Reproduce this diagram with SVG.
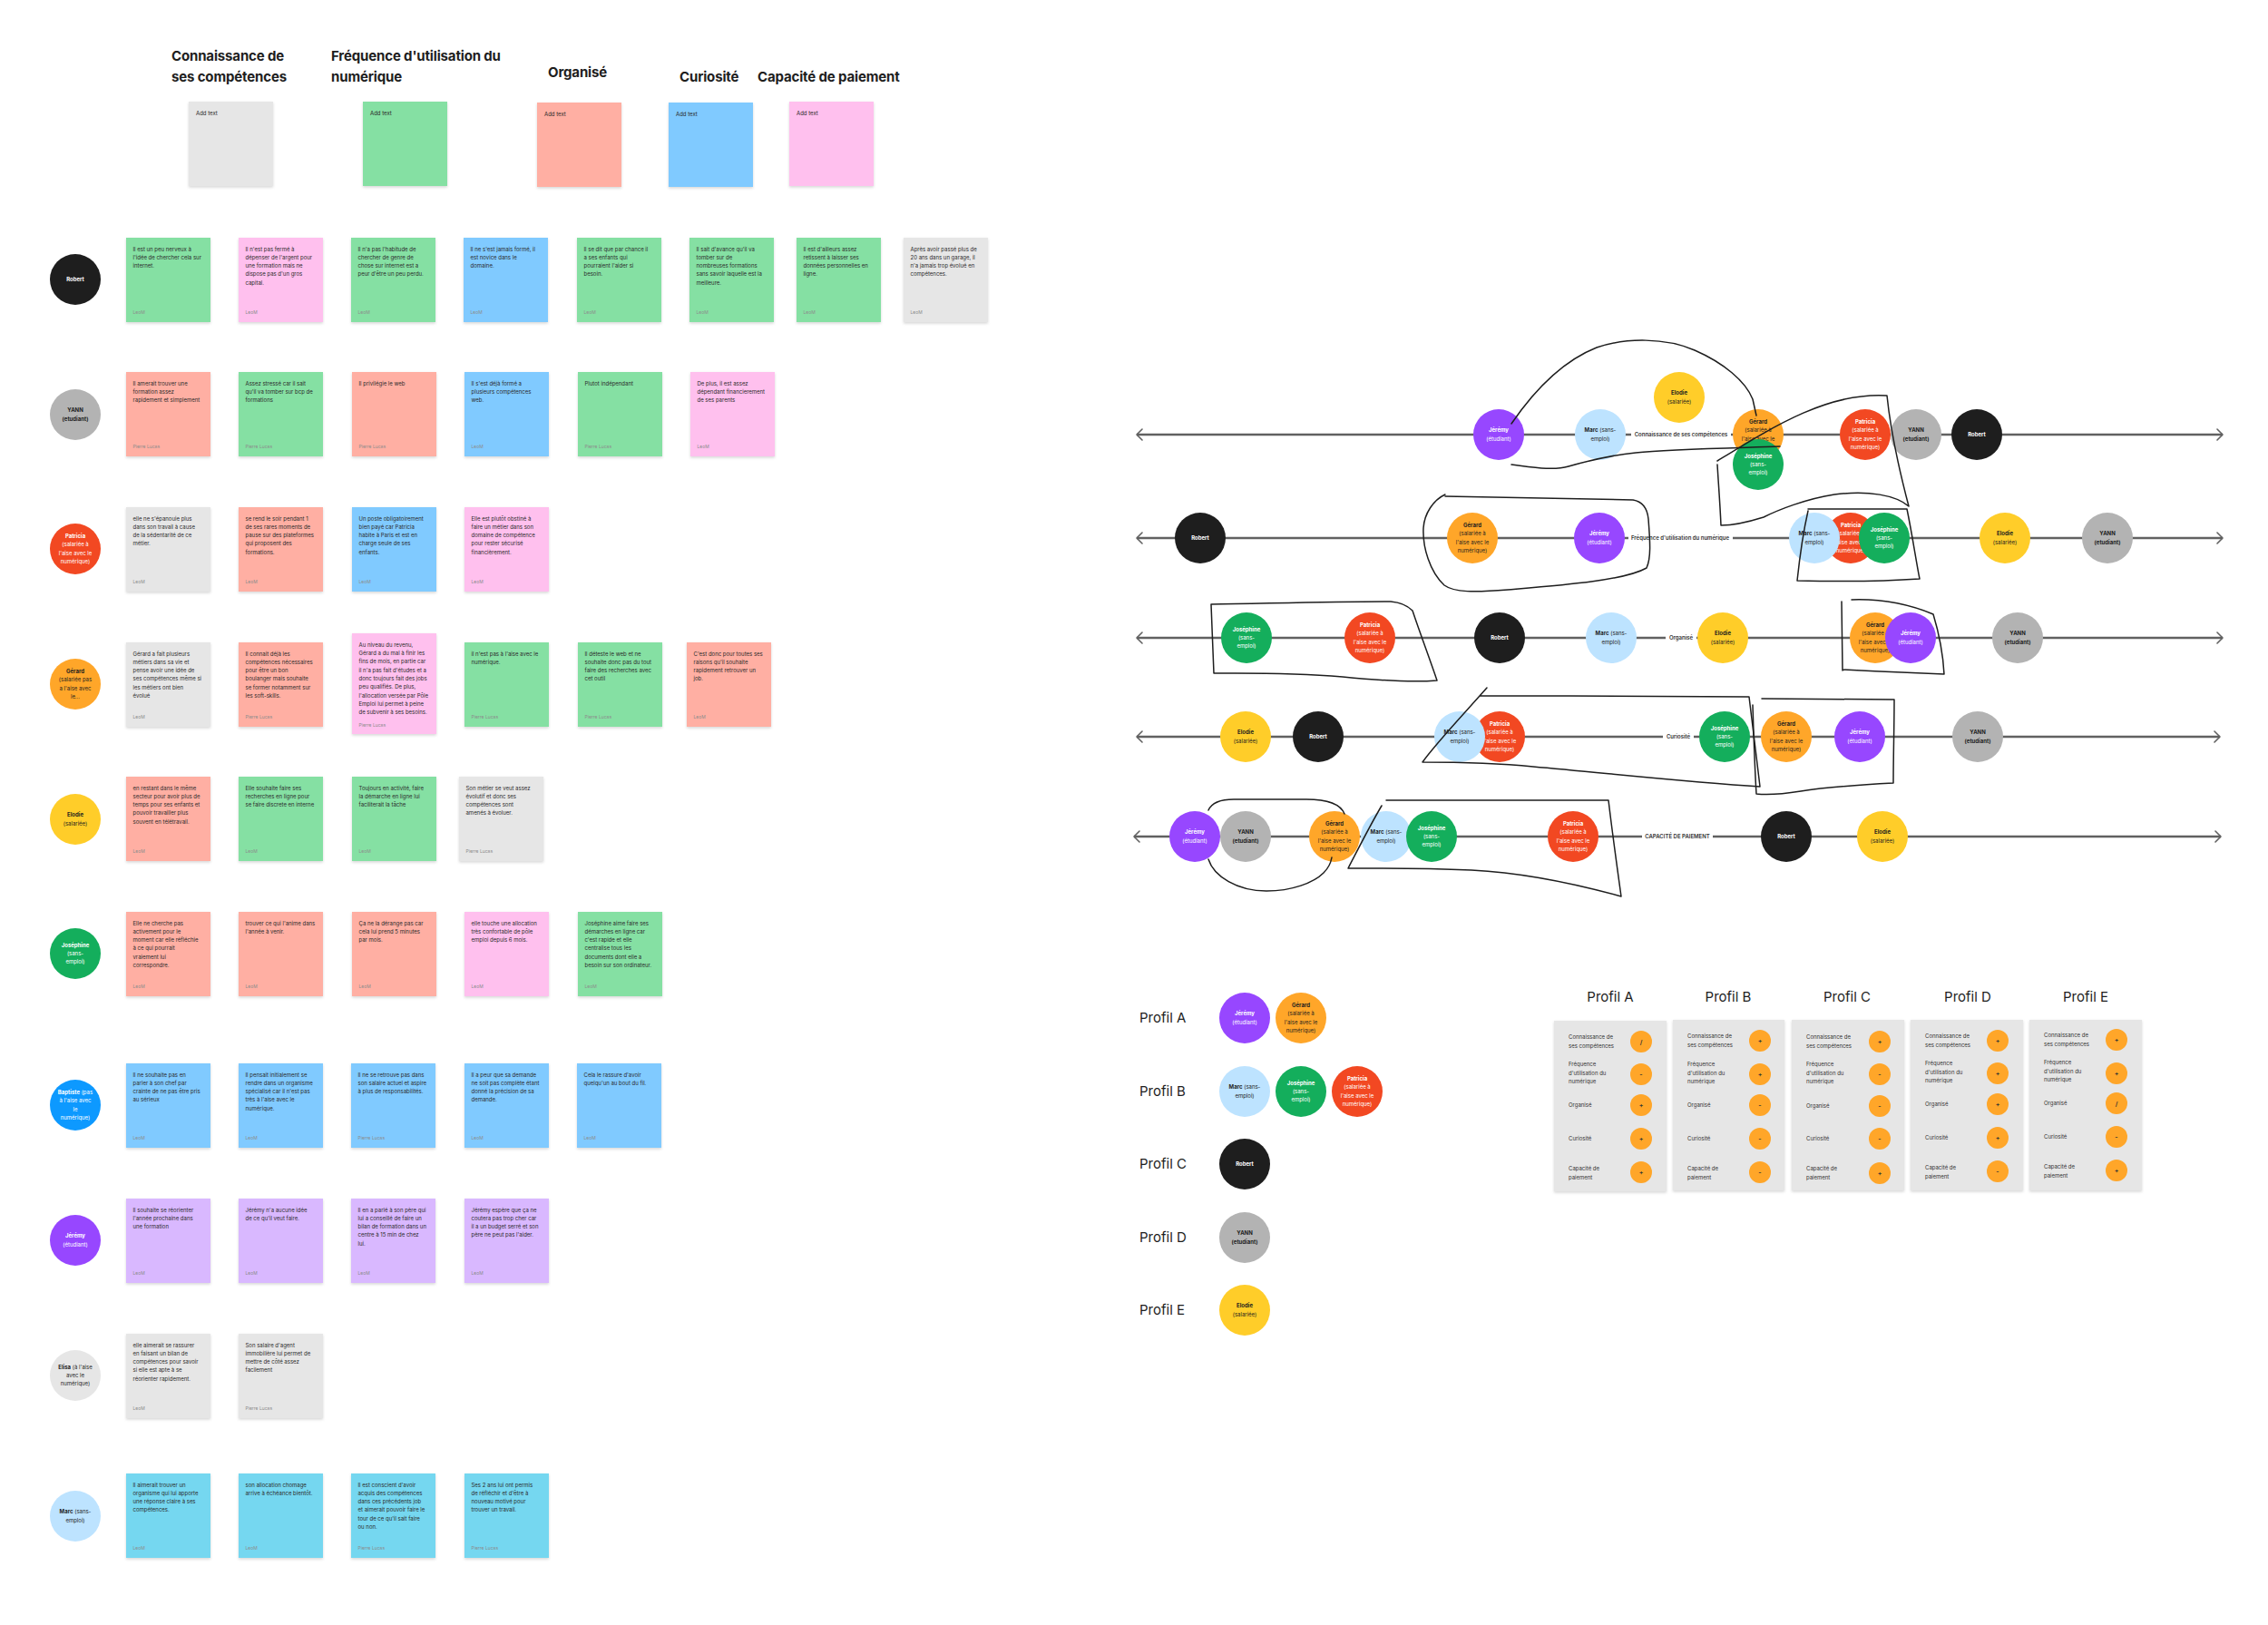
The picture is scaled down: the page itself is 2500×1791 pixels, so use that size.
<svg xmlns="http://www.w3.org/2000/svg" width="2500" height="1791" viewBox="0 0 2500 1791">
<defs>
<filter id="sh" x="-10%" y="-10%" width="120%" height="125%"><feDropShadow dx="0" dy="1.5" stdDeviation="1.4" flood-color="#000" flood-opacity="0.16"/></filter>
<style>
text{font-family:Inter,"Liberation Sans",sans-serif;}
.hd{font-size:15px;font-weight:700;fill:#1e1e1e;letter-spacing:-0.15px;}
.sk rect{filter:url(#sh);}
.sk text{font-size:6px;fill:#2b2b2b;}
.sk text.au{font-size:5px;fill:#8c8c8c;}
.addt{font-size:5px;fill:#8c8c8c;}
.gray{fill:#e6e6e6}.green{fill:#85e0a3}.salmon{fill:#ffafa3}.blue{fill:#80caff}.pink{fill:#ffc0ee}.purple{fill:#d9b8ff}.teal{fill:#75d7f0}
.nd text{font-size:6px;text-anchor:middle;}
.w{fill:#ffffff}.d{fill:#1e1e1e}
.b{font-weight:700}
.c-rob{fill:#1e1e1e}.c-yan{fill:#b3b3b3}.c-pat{fill:#f24822}.c-ger{fill:#ffa629}.c-elo{fill:#ffcd29}.c-jos{fill:#14ae5c}.c-bap{fill:#0d99ff}.c-jer{fill:#9747ff}.c-eli{fill:#e6e6e6}.c-mar{fill:#bde3ff}
.axis{stroke:#616161;stroke-width:2.5;fill:none}
.arr{stroke:#616161;stroke-width:1.6;fill:none;stroke-linecap:round;stroke-linejoin:round}
.alab{font-size:6px;font-weight:600;fill:#333;text-anchor:middle}
.hand{stroke:#1e1e1e;stroke-width:1.5;fill:none;stroke-linecap:round;stroke-linejoin:round}
.pl{font-size:15px;fill:#1e1e1e}
.pt{font-size:15px;fill:#1e1e1e;text-anchor:middle}
.tb{fill:#e6e6e6;filter:url(#sh)}
.tr{font-size:6px;fill:#333}
.dot{fill:#ffa629}
.sym{font-size:7px;fill:#333;text-anchor:middle;font-weight:600}
</style>
</defs>
<rect width="2500" height="1791" fill="#ffffff"/>

<!-- Headers -->
<g id="headers">
<text class="hd" x="189" y="67">Connaissance de</text>
<text class="hd" x="189" y="90">ses compétences</text>
<text class="hd" x="365" y="67">Fréquence d'utilisation du</text>
<text class="hd" x="365" y="90">numérique</text>
<text class="hd" x="604" y="85">Organisé</text>
<text class="hd" x="749" y="90">Curiosité</text>
<text class="hd" x="835" y="90">Capacité de paiement</text>
</g>
<g id="legend-stickies" class="sk">
<rect class="gray" x="208" y="112" width="93" height="93"/><text class="addt" x="216" y="127">Add text</text>
<rect class="green" x="400" y="112" width="93" height="93"/><text class="addt" x="408" y="127">Add text</text>
<rect class="salmon" x="592" y="113" width="93" height="93"/><text class="addt" x="600" y="128">Add text</text>
<rect class="blue" x="737" y="113" width="93" height="93"/><text class="addt" x="745" y="128">Add text</text>
<rect class="pink" x="870" y="112" width="93" height="93"/><text class="addt" x="878" y="127">Add text</text>
</g>

<!-- Persona circles -->
<g id="persona-robert" class="nd"><circle class="c-rob" cx="83" cy="308" r="28"/><text class="w b" x="83" y="310">Robert</text></g>
<g id="persona-yann" class="nd"><circle class="c-yan" cx="83" cy="457" r="28"/><text class="d b" x="83" y="454.4">YANN<tspan x="83" dy="9.3">(etudiant)</tspan></text></g>
<g id="persona-patricia" class="nd"><circle class="c-pat" cx="83" cy="605" r="28"/><text class="w" x="83" y="593"><tspan class="b">Patricia</tspan><tspan x="83" dy="9.3">(salariée à</tspan><tspan x="83" dy="9.3">l'aise avec le</tspan><tspan x="83" dy="9.3">numérique)</tspan></text></g>
<g id="persona-gerard" class="nd"><circle class="c-ger" cx="83" cy="754" r="28"/><text class="d" x="83" y="742"><tspan class="b">Gérard</tspan><tspan x="83" dy="9.3">(salariée pas</tspan><tspan x="83" dy="9.3">a l'aise avec</tspan><tspan x="83" dy="9.3">le...</tspan></text></g>
<g id="persona-elodie" class="nd"><circle class="c-elo" cx="83" cy="903" r="28"/><text class="d" x="83" y="900.4"><tspan class="b">Elodie</tspan><tspan x="83" dy="9.3">(salariée)</tspan></text></g>
<g id="persona-josephine" class="nd"><circle class="c-jos" cx="83" cy="1051" r="28"/><text class="w" x="83" y="1043.7"><tspan class="b">Joséphine</tspan><tspan x="83" dy="9.3">(sans-</tspan><tspan x="83" dy="9.3">emploi)</tspan></text></g>
<g id="persona-baptiste" class="nd"><circle class="c-bap" cx="83" cy="1218" r="28"/><text class="w" x="83" y="1206"><tspan class="b">Baptiste</tspan> (pas<tspan x="83" dy="9.3">à l'aise avec</tspan><tspan x="83" dy="9.3">le</tspan><tspan x="83" dy="9.3">numérique)</tspan></text></g>
<g id="persona-jeremy" class="nd"><circle class="c-jer" cx="83" cy="1367" r="28"/><text class="w" x="83" y="1364.4"><tspan class="b">Jérémy</tspan><tspan x="83" dy="9.3">(étudiant)</tspan></text></g>
<g id="persona-elisa" class="nd"><circle class="c-eli" cx="83" cy="1516" r="28"/><text class="d" x="83" y="1508.7"><tspan class="b">Elisa</tspan> (à l'aise<tspan x="83" dy="9.3">avec le</tspan><tspan x="83" dy="9.3">numérique)</tspan></text></g>
<g id="persona-marc" class="nd"><circle class="c-mar" cx="83" cy="1671" r="28"/><text class="d" x="83" y="1668.4"><tspan class="b">Marc</tspan> (sans-<tspan x="83" dy="9.3">emploi)</tspan></text></g>

<!-- Sticky notes: Robert -->
<g id="notes-robert" class="sk">
<rect class="green" x="139" y="262" width="93" height="93"/><text x="146.5" y="276.5">Il est un peu nerveux à<tspan x="146.5" dy="9.3">l'idée de chercher cela sur</tspan><tspan x="146.5" dy="9.3">internet.</tspan></text><text class="au" x="146.5" y="346">LeoM</text>
<rect class="pink" x="263" y="262" width="93" height="93"/><text x="270.5" y="276.5">Il n'est pas fermé à<tspan x="270.5" dy="9.3">dépenser de l'argent pour</tspan><tspan x="270.5" dy="9.3">une formation mais ne</tspan><tspan x="270.5" dy="9.3">dispose pas d'un gros</tspan><tspan x="270.5" dy="9.3">capital.</tspan></text><text class="au" x="270.5" y="346">LeoM</text>
<rect class="green" x="387" y="262" width="93" height="93"/><text x="394.5" y="276.5">Il n'a pas l'habitude de<tspan x="394.5" dy="9.3">chercher de genre de</tspan><tspan x="394.5" dy="9.3">chose sur internet est a</tspan><tspan x="394.5" dy="9.3">peur d'être un peu perdu.</tspan></text><text class="au" x="394.5" y="346">LeoM</text>
<rect class="blue" x="511" y="262" width="93" height="93"/><text x="518.5" y="276.5"> Il ne s'est jamais formé, il<tspan x="518.5" dy="9.3">est novice dans le</tspan><tspan x="518.5" dy="9.3">domaine.</tspan></text><text class="au" x="518.5" y="346">LeoM</text>
<rect class="green" x="636" y="262" width="93" height="93"/><text x="643.5" y="276.5"> Il se dit que par chance il<tspan x="643.5" dy="9.3">a ses enfants qui</tspan><tspan x="643.5" dy="9.3">pourraient l'aider si</tspan><tspan x="643.5" dy="9.3">besoin.</tspan></text><text class="au" x="643.5" y="346">LeoM</text>
<rect class="green" x="760" y="262" width="93" height="93"/><text x="767.5" y="276.5">Il sait d'avance qu'il va<tspan x="767.5" dy="9.3">tomber sur de</tspan><tspan x="767.5" dy="9.3">nombreuses formations</tspan><tspan x="767.5" dy="9.3">sans savoir laquelle est la</tspan><tspan x="767.5" dy="9.3">meilleure.</tspan></text><text class="au" x="767.5" y="346">LeoM</text>
<rect class="green" x="878" y="262" width="93" height="93"/><text x="885.5" y="276.5">Il est d'ailleurs assez<tspan x="885.5" dy="9.3">retissent à laisser ses</tspan><tspan x="885.5" dy="9.3">données personnelles en</tspan><tspan x="885.5" dy="9.3">ligne.</tspan></text><text class="au" x="885.5" y="346">LeoM</text>
<rect class="gray" x="996" y="262" width="93" height="93"/><text x="1003.5" y="276.5">Après avoir passé plus de<tspan x="1003.5" dy="9.3">20 ans dans un garage, il</tspan><tspan x="1003.5" dy="9.3">n'a jamais trop évolué en</tspan><tspan x="1003.5" dy="9.3">compétences.</tspan></text><text class="au" x="1003.5" y="346">LeoM</text>
</g>

<!-- YANN -->
<g id="notes-yann" class="sk">
<rect class="salmon" x="139" y="410" width="93" height="93"/><text x="146.5" y="424.5">Il amerait trouver une<tspan x="146.5" dy="9.3">formation assez</tspan><tspan x="146.5" dy="9.3">rapidement et simplement</tspan></text><text class="au" x="146.5" y="494">Pierre Lucas</text>
<rect class="green" x="263" y="410" width="93" height="93"/><text x="270.5" y="424.5">Assez stressé car il sait<tspan x="270.5" dy="9.3">qu'il va tomber sur bcp de</tspan><tspan x="270.5" dy="9.3">formations</tspan></text><text class="au" x="270.5" y="494">Pierre Lucas</text>
<rect class="salmon" x="388" y="410" width="93" height="93"/><text x="395.5" y="424.5">Il privilégie le web</text><text class="au" x="395.5" y="494">Pierre Lucas</text>
<rect class="blue" x="512" y="410" width="93" height="93"/><text x="519.5" y="424.5">Il s'est déjà formé a<tspan x="519.5" dy="9.3">plusieurs compétences</tspan><tspan x="519.5" dy="9.3">web.</tspan></text><text class="au" x="519.5" y="494">LeoM</text>
<rect class="green" x="637" y="410" width="93" height="93"/><text x="644.5" y="424.5">Plutot indépendant</text><text class="au" x="644.5" y="494">Pierre Lucas</text>
<rect class="pink" x="761" y="410" width="93" height="93"/><text x="768.5" y="424.5">De plus, il est assez<tspan x="768.5" dy="9.3">dépendant financierement</tspan><tspan x="768.5" dy="9.3">de ses parents</tspan></text><text class="au" x="768.5" y="494">LeoM</text>
</g>

<!-- Patricia -->
<g id="notes-patricia" class="sk">
<rect class="gray" x="139" y="559" width="93" height="93"/><text x="146.5" y="573.5">elle ne s'épanouie plus<tspan x="146.5" dy="9.3">dans son travail à cause</tspan><tspan x="146.5" dy="9.3">de la sédentarité de ce</tspan><tspan x="146.5" dy="9.3">métier.</tspan></text><text class="au" x="146.5" y="643">LeoM</text>
<rect class="salmon" x="263" y="559" width="93" height="93"/><text x="270.5" y="573.5">se rend le soir pendant 1<tspan x="270.5" dy="9.3">de ses rares moments de</tspan><tspan x="270.5" dy="9.3">pause sur des plateformes</tspan><tspan x="270.5" dy="9.3">qui proposent des</tspan><tspan x="270.5" dy="9.3">formations.</tspan></text><text class="au" x="270.5" y="643">LeoM</text>
<rect class="blue" x="388" y="559" width="93" height="93"/><text x="395.5" y="573.5">Un poste obligatoirement<tspan x="395.5" dy="9.3">bien payé car Patricia</tspan><tspan x="395.5" dy="9.3">habite à Paris et est en</tspan><tspan x="395.5" dy="9.3">charge seule de ses</tspan><tspan x="395.5" dy="9.3">enfants.</tspan></text><text class="au" x="395.5" y="643">LeoM</text>
<rect class="pink" x="512" y="559" width="93" height="93"/><text x="519.5" y="573.5">Elle est plutôt obstiné à<tspan x="519.5" dy="9.3">faire un métier dans son</tspan><tspan x="519.5" dy="9.3">domaine de compétence</tspan><tspan x="519.5" dy="9.3">pour rester sécurisé</tspan><tspan x="519.5" dy="9.3">financièrement.</tspan></text><text class="au" x="519.5" y="643">LeoM</text>
</g>

<!-- Gérard -->
<g id="notes-gerard" class="sk">
<rect class="gray" x="139" y="708" width="93" height="93"/><text x="146.5" y="722.5">Gérard a fait plusieurs<tspan x="146.5" dy="9.3">métiers dans sa vie et</tspan><tspan x="146.5" dy="9.3">pense avoir une idée de</tspan><tspan x="146.5" dy="9.3">ses compétences même si</tspan><tspan x="146.5" dy="9.3">les métiers ont bien</tspan><tspan x="146.5" dy="9.3">évolué</tspan></text><text class="au" x="146.5" y="792">LeoM</text>
<rect class="salmon" x="263" y="708" width="93" height="93"/><text x="270.5" y="722.5">Il connait déjà les<tspan x="270.5" dy="9.3">compétences nécessaires</tspan><tspan x="270.5" dy="9.3">pour être un bon</tspan><tspan x="270.5" dy="9.3">boulanger mais souhaite</tspan><tspan x="270.5" dy="9.3">se former notamment sur</tspan><tspan x="270.5" dy="9.3">les soft-skills.</tspan></text><text class="au" x="270.5" y="792">Pierre Lucas</text>
<rect class="pink" x="388" y="698" width="93" height="111"/><text x="395.5" y="712.7">Au niveau du revenu,<tspan x="395.5" dy="9.3">Gérard a du mal à finir les</tspan><tspan x="395.5" dy="9.3">fins de mois, en partie car</tspan><tspan x="395.5" dy="9.3">il n'a pas fait d'études et a</tspan><tspan x="395.5" dy="9.3">donc toujours fait des jobs</tspan><tspan x="395.5" dy="9.3">peu qualifiés. De plus,</tspan><tspan x="395.5" dy="9.3">l'allocation versée par Pôle</tspan><tspan x="395.5" dy="9.3">Emploi lui permet à peine</tspan><tspan x="395.5" dy="9.3">de subvenir à ses besoins.</tspan></text><text class="au" x="395.5" y="800.5">Pierre Lucas</text>
<rect class="green" x="512" y="708" width="93" height="93"/><text x="519.5" y="722.5">il n'est pas à l'aise avec le<tspan x="519.5" dy="9.3">numérique.</tspan></text><text class="au" x="519.5" y="792">Pierre Lucas</text>
<rect class="green" x="637" y="708" width="93" height="93"/><text x="644.5" y="722.5">Il déteste le web et ne<tspan x="644.5" dy="9.3">souhaite donc pas du tout</tspan><tspan x="644.5" dy="9.3">faire des recherches avec</tspan><tspan x="644.5" dy="9.3">cet outil</tspan></text><text class="au" x="644.5" y="792">Pierre Lucas</text>
<rect class="salmon" x="757" y="708" width="93" height="93"/><text x="764.5" y="722.5">C'est donc pour toutes ses<tspan x="764.5" dy="9.3">raisons qu'il souhaite</tspan><tspan x="764.5" dy="9.3">rapidement retrouver un</tspan><tspan x="764.5" dy="9.3">job.</tspan></text><text class="au" x="764.5" y="792">LeoM</text>
</g>

<!-- Elodie -->
<g id="notes-elodie" class="sk">
<rect class="salmon" x="139" y="856" width="93" height="93"/><text x="146.5" y="870.5">en restant dans le même<tspan x="146.5" dy="9.3">secteur pour avoir plus de</tspan><tspan x="146.5" dy="9.3">temps pour ses enfants et</tspan><tspan x="146.5" dy="9.3">pouvoir travailler plus</tspan><tspan x="146.5" dy="9.3">souvent en télétravail.</tspan></text><text class="au" x="146.5" y="940">LeoM</text>
<rect class="green" x="263" y="856" width="93" height="93"/><text x="270.5" y="870.5">Elle souhaite faire ses<tspan x="270.5" dy="9.3">recherches en ligne pour</tspan><tspan x="270.5" dy="9.3">se faire discrete en interne</tspan></text><text class="au" x="270.5" y="940">LeoM</text>
<rect class="green" x="388" y="856" width="93" height="93"/><text x="395.5" y="870.5">Toujours en activité, faire<tspan x="395.5" dy="9.3">la démarche en ligne lui</tspan><tspan x="395.5" dy="9.3">faciliterait la tâche</tspan></text><text class="au" x="395.5" y="940">LeoM</text>
<rect class="gray" x="506" y="856" width="93" height="93"/><text x="513.5" y="870.5">Son métier se veut assez<tspan x="513.5" dy="9.3">évolutif et donc ses</tspan><tspan x="513.5" dy="9.3">compétences sont</tspan><tspan x="513.5" dy="9.3">amenés à évoluer.</tspan></text><text class="au" x="513.5" y="940">Pierre Lucas</text>
</g>

<!-- Joséphine -->
<g id="notes-josephine" class="sk">
<rect class="salmon" x="139" y="1005" width="93" height="93"/><text x="146.5" y="1019.5">Elle ne cherche pas<tspan x="146.5" dy="9.3">activement pour le</tspan><tspan x="146.5" dy="9.3">moment car elle réfléchie</tspan><tspan x="146.5" dy="9.3">à ce qui pourrait</tspan><tspan x="146.5" dy="9.3">vraiement lui</tspan><tspan x="146.5" dy="9.3">correspondre.</tspan></text><text class="au" x="146.5" y="1089">LeoM</text>
<rect class="salmon" x="263" y="1005" width="93" height="93"/><text x="270.5" y="1019.5">trouver ce qui l'anime dans<tspan x="270.5" dy="9.3">l'année à venir.</tspan></text><text class="au" x="270.5" y="1089">LeoM</text>
<rect class="salmon" x="388" y="1005" width="93" height="93"/><text x="395.5" y="1019.5">Ça ne la dérange pas car<tspan x="395.5" dy="9.3">cela lui prend 5 minutes</tspan><tspan x="395.5" dy="9.3">par mois.</tspan></text><text class="au" x="395.5" y="1089">LeoM</text>
<rect class="pink" x="512" y="1005" width="93" height="93"/><text x="519.5" y="1019.5">elle touche une allocation<tspan x="519.5" dy="9.3">très confortable de pôle</tspan><tspan x="519.5" dy="9.3">emploi depuis 6 mois.</tspan></text><text class="au" x="519.5" y="1089">LeoM</text>
<rect class="green" x="637" y="1005" width="93" height="93"/><text x="644.5" y="1019.5">Joséphine aime faire ses<tspan x="644.5" dy="9.3">démarches en ligne car</tspan><tspan x="644.5" dy="9.3">c'est rapide et elle</tspan><tspan x="644.5" dy="9.3">centralise tous les</tspan><tspan x="644.5" dy="9.3">documents dont elle a</tspan><tspan x="644.5" dy="9.3">besoin sur son ordinateur.</tspan></text><text class="au" x="644.5" y="1089">LeoM</text>
</g>

<!-- Baptiste -->
<g id="notes-baptiste" class="sk">
<rect class="blue" x="139" y="1172" width="93" height="93"/><text x="146.5" y="1186.5">Il ne souhaite pas en<tspan x="146.5" dy="9.3">parler à son chef par</tspan><tspan x="146.5" dy="9.3">crainte de ne pas être pris</tspan><tspan x="146.5" dy="9.3">au sérieux</tspan></text><text class="au" x="146.5" y="1256">LeoM</text>
<rect class="blue" x="263" y="1172" width="93" height="93"/><text x="270.5" y="1186.5"> Il pensait initialement se<tspan x="270.5" dy="9.3">rendre dans un organisme</tspan><tspan x="270.5" dy="9.3">spécialisé car il n'est pas</tspan><tspan x="270.5" dy="9.3">très à l'aise avec le</tspan><tspan x="270.5" dy="9.3">numérique.</tspan></text><text class="au" x="270.5" y="1256">LeoM</text>
<rect class="blue" x="387" y="1172" width="93" height="93"/><text x="394.5" y="1186.5">Il ne se retrouve pas dans<tspan x="394.5" dy="9.3">son salaire actuel et aspire</tspan><tspan x="394.5" dy="9.3">à plus de responsabilités.</tspan></text><text class="au" x="394.5" y="1256">Pierre Lucas</text>
<rect class="blue" x="512" y="1172" width="93" height="93"/><text x="519.5" y="1186.5">Il a peur que sa demande<tspan x="519.5" dy="9.3">ne soit pas complète étant</tspan><tspan x="519.5" dy="9.3">donné la précision de sa</tspan><tspan x="519.5" dy="9.3">demande.</tspan></text><text class="au" x="519.5" y="1256">LeoM</text>
<rect class="blue" x="636" y="1172" width="93" height="93"/><text x="643.5" y="1186.5"> Cela le rassure d'avoir<tspan x="643.5" dy="9.3">quelqu'un au bout du fil.</tspan></text><text class="au" x="643.5" y="1256">LeoM</text>
</g>

<!-- Jérémy -->
<g id="notes-jeremy" class="sk">
<rect class="purple" x="139" y="1321" width="93" height="93"/><text x="146.5" y="1335.5">Il souhaite se réorienter<tspan x="146.5" dy="9.3">l'année prochaine dans</tspan><tspan x="146.5" dy="9.3">une formation</tspan></text><text class="au" x="146.5" y="1405">LeoM</text>
<rect class="purple" x="263" y="1321" width="93" height="93"/><text x="270.5" y="1335.5"> Jérémy n'a aucune idée<tspan x="270.5" dy="9.3">de ce qu'il veut faire.</tspan></text><text class="au" x="270.5" y="1405">LeoM</text>
<rect class="purple" x="387" y="1321" width="93" height="93"/><text x="394.5" y="1335.5"> Il en a parlé à son père qui<tspan x="394.5" dy="9.3">lui a conseillé de faire un</tspan><tspan x="394.5" dy="9.3">bilan de formation dans un</tspan><tspan x="394.5" dy="9.3">centre à 15 min de chez</tspan><tspan x="394.5" dy="9.3">lui.</tspan></text><text class="au" x="394.5" y="1405">LeoM</text>
<rect class="purple" x="512" y="1321" width="93" height="93"/><text x="519.5" y="1335.5">Jérémy espère que ça ne<tspan x="519.5" dy="9.3">coutera pas trop cher car</tspan><tspan x="519.5" dy="9.3">il a un budget serré et son</tspan><tspan x="519.5" dy="9.3">père ne peut pas l'aider.</tspan></text><text class="au" x="519.5" y="1405">LeoM</text>
</g>

<!-- Elisa -->
<g id="notes-elisa" class="sk">
<rect class="gray" x="139" y="1470" width="93" height="93"/><text x="146.5" y="1484.5">elle aimerait se rassurer<tspan x="146.5" dy="9.3">en faisant un bilan de</tspan><tspan x="146.5" dy="9.3">compétences pour savoir</tspan><tspan x="146.5" dy="9.3">si elle est apte à se</tspan><tspan x="146.5" dy="9.3">réorienter rapidement.</tspan></text><text class="au" x="146.5" y="1554">LeoM</text>
<rect class="gray" x="263" y="1470" width="93" height="93"/><text x="270.5" y="1484.5">Son salaire d'agent<tspan x="270.5" dy="9.3">immobilière lui permet de</tspan><tspan x="270.5" dy="9.3">mettre de côté assez</tspan><tspan x="270.5" dy="9.3">facilement</tspan></text><text class="au" x="270.5" y="1554">Pierre Lucas</text>
</g>

<!-- Marc -->
<g id="notes-marc" class="sk">
<rect class="teal" x="139" y="1624" width="93" height="93"/><text x="146.5" y="1638.5">Il aimerait trouver un<tspan x="146.5" dy="9.3">organisme qui lui apporte</tspan><tspan x="146.5" dy="9.3">une réponse claire à ses</tspan><tspan x="146.5" dy="9.3">compétences.</tspan></text><text class="au" x="146.5" y="1708">LeoM</text>
<rect class="teal" x="263" y="1624" width="93" height="93"/><text x="270.5" y="1638.5">son allocation chomage<tspan x="270.5" dy="9.3">arrive à échéance bientôt.</tspan></text><text class="au" x="270.5" y="1708">LeoM</text>
<rect class="teal" x="387" y="1624" width="93" height="93"/><text x="394.5" y="1638.5">Il est conscient d'avoir<tspan x="394.5" dy="9.3">acquis des compétences</tspan><tspan x="394.5" dy="9.3">dans ces précédents job</tspan><tspan x="394.5" dy="9.3">et aimerait pouvoir faire le</tspan><tspan x="394.5" dy="9.3">tour de ce qu'il sait faire</tspan><tspan x="394.5" dy="9.3">ou non.</tspan></text><text class="au" x="394.5" y="1708">Pierre Lucas</text>
<rect class="teal" x="512" y="1624" width="93" height="93"/><text x="519.5" y="1638.5">Ses 2 ans lui ont permis<tspan x="519.5" dy="9.3">de réfléchir et d'être à</tspan><tspan x="519.5" dy="9.3">nouveau motivé pour</tspan><tspan x="519.5" dy="9.3">trouver un travail.</tspan></text><text class="au" x="519.5" y="1708">Pierre Lucas</text>
</g>

<!-- Connectors: axes and hand-drawn groupings -->
<g id="connectors">
<line class="axis" x1="1253" y1="479" x2="2450" y2="479"/>
<path class="arr" d="M1259,473 L1253,479 L1259,485 M2444,473 L2450,479 L2444,485"/>
<line class="axis" x1="1253" y1="593" x2="2450" y2="593"/>
<path class="arr" d="M1259,587 L1253,593 L1259,599 M2444,587 L2450,593 L2444,599"/>
<line class="axis" x1="1253" y1="703" x2="2450" y2="703"/>
<path class="arr" d="M1259,697 L1253,703 L1259,709 M2444,697 L2450,703 L2444,709"/>
<line class="axis" x1="1253" y1="812" x2="2447" y2="812"/>
<path class="arr" d="M1259,806 L1253,812 L1259,818 M2441,806 L2447,812 L2441,818"/>
<line class="axis" x1="1250" y1="922" x2="2448" y2="922"/>
<path class="arr" d="M1256,916 L1250,922 L1256,928 M2442,916 L2448,922 L2442,928"/>
</g>

<!-- Axis labels -->
<g id="axis-labels">
<rect x="1798" y="474" width="110" height="10" fill="#fff"/><text class="alab" x="1853" y="481">Connaissance de ses compétences</text>
<rect x="1795" y="588" width="115" height="10" fill="#fff"/><text class="alab" x="1852" y="595">Fréquence d'utilisation du numérique</text>
<rect x="1836" y="698" width="34" height="10" fill="#fff"/><text class="alab" x="1853" y="705">Organisé</text>
<rect x="1833" y="807" width="34" height="10" fill="#fff"/><text class="alab" x="1850" y="814">Curiosité</text>
<rect x="1810" y="917" width="78" height="10" fill="#fff"/><text class="alab" x="1849" y="924">CAPACITÉ DE PAIEMENT</text>
</g>

<!-- Axis 1 nodes -->
<g id="a1-jeremy" class="nd"><circle class="c-jer" cx="1652" cy="479" r="28"/><text class="w" x="1652" y="476.4"><tspan class="b">Jérémy</tspan><tspan x="1652" dy="9.3">(étudiant)</tspan></text></g>
<g id="a1-marc" class="nd"><circle class="c-mar" cx="1764" cy="479" r="28"/><text class="d" x="1764" y="476.4"><tspan class="b">Marc</tspan> (sans-<tspan x="1764" dy="9.3">emploi)</tspan></text></g>
<g id="a1-elodie" class="nd"><circle class="c-elo" cx="1851" cy="438" r="28"/><text class="d" x="1851" y="435.4"><tspan class="b">Elodie</tspan><tspan x="1851" dy="9.3">(salariée)</tspan></text></g>
<g id="a1-gerard" class="nd"><circle class="c-ger" cx="1938" cy="479" r="28"/><text class="d" x="1938" y="467"><tspan class="b">Gérard</tspan><tspan x="1938" dy="9.3">(salariée à</tspan><tspan x="1938" dy="9.3">l'aise avec le</tspan><tspan x="1938" dy="9.3">numérique)</tspan></text></g>
<g id="a1-josephine" class="nd"><circle class="c-jos" cx="1938" cy="512" r="28"/><text class="w" x="1938" y="504.7"><tspan class="b">Joséphine</tspan><tspan x="1938" dy="9.3">(sans-</tspan><tspan x="1938" dy="9.3">emploi)</tspan></text></g>
<g id="a1-patricia" class="nd"><circle class="c-pat" cx="2056" cy="479" r="28"/><text class="w" x="2056" y="467"><tspan class="b">Patricia</tspan><tspan x="2056" dy="9.3">(salariée à</tspan><tspan x="2056" dy="9.3">l'aise avec le</tspan><tspan x="2056" dy="9.3">numérique)</tspan></text></g>
<g id="a1-yann" class="nd"><circle class="c-yan" cx="2112" cy="479" r="28"/><text class="d b" x="2112" y="476.4">YANN<tspan x="2112" dy="9.3">(etudiant)</tspan></text></g>
<g id="a1-robert" class="nd"><circle class="c-rob" cx="2179" cy="479" r="28"/><text class="w b" x="2179" y="481">Robert</text></g>

<!-- Axis 2 nodes -->
<g id="a2-robert" class="nd"><circle class="c-rob" cx="1323" cy="593" r="28"/><text class="w b" x="1323" y="595">Robert</text></g>
<g id="a2-gerard" class="nd"><circle class="c-ger" cx="1623" cy="593" r="28"/><text class="d" x="1623" y="581"><tspan class="b">Gérard</tspan><tspan x="1623" dy="9.3">(salariée à</tspan><tspan x="1623" dy="9.3">l'aise avec le</tspan><tspan x="1623" dy="9.3">numérique)</tspan></text></g>
<g id="a2-jeremy" class="nd"><circle class="c-jer" cx="1763" cy="593" r="28"/><text class="w" x="1763" y="590.4"><tspan class="b">Jérémy</tspan><tspan x="1763" dy="9.3">(étudiant)</tspan></text></g>
<g id="a2-patricia" class="nd"><circle class="c-pat" cx="2040" cy="593" r="28"/><text class="w" x="2040" y="581"><tspan class="b">Patricia</tspan><tspan x="2040" dy="9.3">(salariée à</tspan><tspan x="2040" dy="9.3">l'aise avec le</tspan><tspan x="2040" dy="9.3">numérique)</tspan></text></g>
<g id="a2-marc" class="nd"><circle class="c-mar" cx="2000" cy="593" r="28"/><text class="d" x="2000" y="590.4"><tspan class="b">Marc</tspan> (sans-<tspan x="2000" dy="9.3">emploi)</tspan></text></g>
<g id="a2-josephine" class="nd"><circle class="c-jos" cx="2077" cy="593" r="28"/><text class="w" x="2077" y="585.7"><tspan class="b">Joséphine</tspan><tspan x="2077" dy="9.3">(sans-</tspan><tspan x="2077" dy="9.3">emploi)</tspan></text></g>
<g id="a2-elodie" class="nd"><circle class="c-elo" cx="2210" cy="593" r="28"/><text class="d" x="2210" y="590.4"><tspan class="b">Elodie</tspan><tspan x="2210" dy="9.3">(salariée)</tspan></text></g>
<g id="a2-yann" class="nd"><circle class="c-yan" cx="2323" cy="593" r="28"/><text class="d b" x="2323" y="590.4">YANN<tspan x="2323" dy="9.3">(etudiant)</tspan></text></g>

<!-- Axis 3 nodes -->
<g id="a3-josephine" class="nd"><circle class="c-jos" cx="1374" cy="703" r="28"/><text class="w" x="1374" y="695.7"><tspan class="b">Joséphine</tspan><tspan x="1374" dy="9.3">(sans-</tspan><tspan x="1374" dy="9.3">emploi)</tspan></text></g>
<g id="a3-patricia" class="nd"><circle class="c-pat" cx="1510" cy="703" r="28"/><text class="w" x="1510" y="691"><tspan class="b">Patricia</tspan><tspan x="1510" dy="9.3">(salariée à</tspan><tspan x="1510" dy="9.3">l'aise avec le</tspan><tspan x="1510" dy="9.3">numérique)</tspan></text></g>
<g id="a3-robert" class="nd"><circle class="c-rob" cx="1653" cy="703" r="28"/><text class="w b" x="1653" y="705">Robert</text></g>
<g id="a3-marc" class="nd"><circle class="c-mar" cx="1776" cy="703" r="28"/><text class="d" x="1776" y="700.4"><tspan class="b">Marc</tspan> (sans-<tspan x="1776" dy="9.3">emploi)</tspan></text></g>
<g id="a3-elodie" class="nd"><circle class="c-elo" cx="1899" cy="703" r="28"/><text class="d" x="1899" y="700.4"><tspan class="b">Elodie</tspan><tspan x="1899" dy="9.3">(salariée)</tspan></text></g>
<g id="a3-gerard" class="nd"><circle class="c-ger" cx="2067" cy="703" r="28"/><text class="d" x="2067" y="691"><tspan class="b">Gérard</tspan><tspan x="2067" dy="9.3">(salariée à</tspan><tspan x="2067" dy="9.3">l'aise avec le</tspan><tspan x="2067" dy="9.3">numérique)</tspan></text></g>
<g id="a3-jeremy" class="nd"><circle class="c-jer" cx="2106" cy="703" r="28"/><text class="w" x="2106" y="700.4"><tspan class="b">Jérémy</tspan><tspan x="2106" dy="9.3">(étudiant)</tspan></text></g>
<g id="a3-yann" class="nd"><circle class="c-yan" cx="2224" cy="703" r="28"/><text class="d b" x="2224" y="700.4">YANN<tspan x="2224" dy="9.3">(etudiant)</tspan></text></g>

<!-- Axis 4 nodes -->
<g id="a4-elodie" class="nd"><circle class="c-elo" cx="1373" cy="812" r="28"/><text class="d" x="1373" y="809.4"><tspan class="b">Elodie</tspan><tspan x="1373" dy="9.3">(salariée)</tspan></text></g>
<g id="a4-robert" class="nd"><circle class="c-rob" cx="1453" cy="812" r="28"/><text class="w b" x="1453" y="814">Robert</text></g>
<g id="a4-patricia" class="nd"><circle class="c-pat" cx="1653" cy="812" r="28"/><text class="w" x="1653" y="800"><tspan class="b">Patricia</tspan><tspan x="1653" dy="9.3">(salariée à</tspan><tspan x="1653" dy="9.3">l'aise avec le</tspan><tspan x="1653" dy="9.3">numérique)</tspan></text></g>
<g id="a4-marc" class="nd"><circle class="c-mar" cx="1609" cy="812" r="28"/><text class="d" x="1609" y="809.4"><tspan class="b">Marc</tspan> (sans-<tspan x="1609" dy="9.3">emploi)</tspan></text></g>
<g id="a4-josephine" class="nd"><circle class="c-jos" cx="1901" cy="812" r="28"/><text class="w" x="1901" y="804.7"><tspan class="b">Joséphine</tspan><tspan x="1901" dy="9.3">(sans-</tspan><tspan x="1901" dy="9.3">emploi)</tspan></text></g>
<g id="a4-gerard" class="nd"><circle class="c-ger" cx="1969" cy="812" r="28"/><text class="d" x="1969" y="800"><tspan class="b">Gérard</tspan><tspan x="1969" dy="9.3">(salariée à</tspan><tspan x="1969" dy="9.3">l'aise avec le</tspan><tspan x="1969" dy="9.3">numérique)</tspan></text></g>
<g id="a4-jeremy" class="nd"><circle class="c-jer" cx="2050" cy="812" r="28"/><text class="w" x="2050" y="809.4"><tspan class="b">Jérémy</tspan><tspan x="2050" dy="9.3">(étudiant)</tspan></text></g>
<g id="a4-yann" class="nd"><circle class="c-yan" cx="2180" cy="812" r="28"/><text class="d b" x="2180" y="809.4">YANN<tspan x="2180" dy="9.3">(etudiant)</tspan></text></g>

<!-- Axis 5 nodes -->
<g id="a5-jeremy" class="nd"><circle class="c-jer" cx="1317" cy="922" r="28"/><text class="w" x="1317" y="919.4"><tspan class="b">Jérémy</tspan><tspan x="1317" dy="9.3">(étudiant)</tspan></text></g>
<g id="a5-yann" class="nd"><circle class="c-yan" cx="1373" cy="922" r="28"/><text class="d b" x="1373" y="919.4">YANN<tspan x="1373" dy="9.3">(etudiant)</tspan></text></g>
<g id="a5-gerard" class="nd"><circle class="c-ger" cx="1471" cy="922" r="28"/><text class="d" x="1471" y="910"><tspan class="b">Gérard</tspan><tspan x="1471" dy="9.3">(salariée à</tspan><tspan x="1471" dy="9.3">l'aise avec le</tspan><tspan x="1471" dy="9.3">numérique)</tspan></text></g>
<g id="a5-marc" class="nd"><circle class="c-mar" cx="1528" cy="922" r="28"/><text class="d" x="1528" y="919.4"><tspan class="b">Marc</tspan> (sans-<tspan x="1528" dy="9.3">emploi)</tspan></text></g>
<g id="a5-josephine" class="nd"><circle class="c-jos" cx="1578" cy="922" r="28"/><text class="w" x="1578" y="914.7"><tspan class="b">Joséphine</tspan><tspan x="1578" dy="9.3">(sans-</tspan><tspan x="1578" dy="9.3">emploi)</tspan></text></g>
<g id="a5-patricia" class="nd"><circle class="c-pat" cx="1734" cy="922" r="28"/><text class="w" x="1734" y="910"><tspan class="b">Patricia</tspan><tspan x="1734" dy="9.3">(salariée à</tspan><tspan x="1734" dy="9.3">l'aise avec le</tspan><tspan x="1734" dy="9.3">numérique)</tspan></text></g>
<g id="a5-robert" class="nd"><circle class="c-rob" cx="1969" cy="922" r="28"/><text class="w b" x="1969" y="924">Robert</text></g>
<g id="a5-elodie" class="nd"><circle class="c-elo" cx="2075" cy="922" r="28"/><text class="d" x="2075" y="919.4"><tspan class="b">Elodie</tspan><tspan x="2075" dy="9.3">(salariée)</tspan></text></g>

<!-- Hand-drawn grouping strokes -->
<g id="hand-strokes">
<path class="hand" d="M1666,467 C1690,432 1722,398 1760,383 C1792,372 1836,372 1868,386 C1900,400 1924,420 1932,440 L1936,458"/>
<path class="hand" d="M1666,512 C1690,515 1712,519 1729,514 C1750,508 1772,502 1803,499 C1840,495 1900,494 1962,492"/>
<path class="hand" d="M1893,508 C1955,470 2015,432 2080,436 C2084,475 2094,520 2104,558 C2090,546 2060,540 2022,545 C1990,550 1960,562 1944,570 C1925,576 1910,579 1897,579 C1896,555 1894,530 1893,512"/>
<path class="hand" d="M1593,547 L1800,551 C1812,553 1816,562 1817,572 C1819,598 1820,615 1815,626 C1790,640 1722,645 1662,650 C1625,653 1603,653 1592,645 C1576,630 1568,603 1569,582 C1570,566 1580,551 1593,545"/>
<path class="hand" d="M1993,561 L2102,561 C2108,590 2112,618 2116,638 C2072,641 2024,641 1981,640 C1984,612 1988,585 1993,563"/>
<path class="hand" d="M1335,666 C1400,665 1470,663 1533,663 C1545,664 1552,668 1557,673 C1566,700 1576,726 1584,750 C1560,752 1520,750 1480,746 C1420,741 1372,742 1338,742 C1337,720 1336,690 1335,666"/>
<path class="hand" d="M2030,663 L2031,739 M2041,661 C2070,660 2102,665 2131,677 C2138,700 2142,725 2143,743 C2120,742 2070,740 2031,738"/>
<path class="hand" d="M1639,758 C1618,782 1582,820 1568,840 C1605,840 1650,841 1690,845 C1770,852 1860,862 1940,867 C1936,834 1932,800 1928,768 C1830,767 1730,767 1631,767"/>
<path class="hand" d="M1942,770 L2088,771 C2088,800 2087,835 2087,863 C2050,865 2010,868 1985,872 C1960,876 1945,876 1936,875 C1934,842 1933,808 1932,777"/>
<path class="hand" d="M1332,893 C1336,884 1346,881 1360,881 L1440,881 C1464,881 1478,887 1482,897"/>
<path class="hand" d="M1332,947 C1338,966 1364,982 1396,982 C1424,982 1448,973 1459,962 C1465,956 1467,951 1468,945"/>
<path class="hand" d="M1528,882 L1773,882 C1777,916 1782,952 1787,988 C1740,975 1682,962 1622,959 C1560,956 1520,957 1486,957 C1498,934 1510,910 1523,888"/>
</g>

<!-- Profiles -->
<g id="profile-labels">
<text class="pl" x="1256" y="1127">Profil A</text>
<text class="pl" x="1256" y="1208">Profil B</text>
<text class="pl" x="1256" y="1288">Profil C</text>
<text class="pl" x="1256" y="1369">Profil D</text>
<text class="pl" x="1256" y="1449">Profil E</text>
</g>
<g id="pA-jeremy" class="nd"><circle class="c-jer" cx="1372" cy="1122" r="28"/><text class="w" x="1372" y="1119.4"><tspan class="b">Jérémy</tspan><tspan x="1372" dy="9.3">(étudiant)</tspan></text></g>
<g id="pA-gerard" class="nd"><circle class="c-ger" cx="1434" cy="1122" r="28"/><text class="d" x="1434" y="1110"><tspan class="b">Gérard</tspan><tspan x="1434" dy="9.3">(salariée à</tspan><tspan x="1434" dy="9.3">l'aise avec le</tspan><tspan x="1434" dy="9.3">numérique)</tspan></text></g>
<g id="pB-marc" class="nd"><circle class="c-mar" cx="1372" cy="1203" r="28"/><text class="d" x="1372" y="1200.4"><tspan class="b">Marc</tspan> (sans-<tspan x="1372" dy="9.3">emploi)</tspan></text></g>
<g id="pB-josephine" class="nd"><circle class="c-jos" cx="1434" cy="1203" r="28"/><text class="w" x="1434" y="1195.7"><tspan class="b">Joséphine</tspan><tspan x="1434" dy="9.3">(sans-</tspan><tspan x="1434" dy="9.3">emploi)</tspan></text></g>
<g id="pB-patricia" class="nd"><circle class="c-pat" cx="1496" cy="1203" r="28"/><text class="w" x="1496" y="1191"><tspan class="b">Patricia</tspan><tspan x="1496" dy="9.3">(salariée à</tspan><tspan x="1496" dy="9.3">l'aise avec le</tspan><tspan x="1496" dy="9.3">numérique)</tspan></text></g>
<g id="pC-robert" class="nd"><circle class="c-rob" cx="1372" cy="1283" r="28"/><text class="w b" x="1372" y="1285">Robert</text></g>
<g id="pD-yann" class="nd"><circle class="c-yan" cx="1372" cy="1364" r="28"/><text class="d b" x="1372" y="1361.4">YANN<tspan x="1372" dy="9.3">(etudiant)</tspan></text></g>
<g id="pE-elodie" class="nd"><circle class="c-elo" cx="1372" cy="1444" r="28"/><text class="d" x="1372" y="1441.4"><tspan class="b">Elodie</tspan><tspan x="1372" dy="9.3">(salariée)</tspan></text></g>

<!-- Profile tables -->
<g id="table-A">
<text class="pt" x="1775" y="1104">Profil A</text>
<rect class="tb" x="1713" y="1125" width="124" height="188"/>
<text class="tr" x="1729" y="1145">Connaissance de<tspan x="1729" dy="9.5">ses compétences</tspan></text><circle class="dot" cx="1809" cy="1148" r="12"/><text class="sym" x="1809" y="1150.5">/</text>
<text class="tr" x="1729" y="1175">Fréquence<tspan x="1729" dy="9.5">d'utilisation du</tspan><tspan x="1729" dy="9.5">numérique</tspan></text><circle class="dot" cx="1809" cy="1184" r="12"/><text class="sym" x="1809" y="1186.5">-</text>
<text class="tr" x="1729" y="1220">Organisé</text><circle class="dot" cx="1809" cy="1218" r="12"/><text class="sym" x="1809" y="1220.5">+</text>
<text class="tr" x="1729" y="1257">Curiosité</text><circle class="dot" cx="1809" cy="1255" r="12"/><text class="sym" x="1809" y="1257.5">+</text>
<text class="tr" x="1729" y="1290">Capacité de<tspan x="1729" dy="9.5">paiement</tspan></text><circle class="dot" cx="1809" cy="1292" r="12"/><text class="sym" x="1809" y="1294.5">+</text>
</g>
<g id="table-B">
<text class="pt" x="1905" y="1104">Profil B</text>
<rect class="tb" x="1844" y="1124" width="123" height="188"/>
<text class="tr" x="1860" y="1144">Connaissance de<tspan x="1860" dy="9.5">ses compétences</tspan></text><circle class="dot" cx="1940" cy="1147" r="12"/><text class="sym" x="1940" y="1149.5">+</text>
<text class="tr" x="1860" y="1175">Fréquence<tspan x="1860" dy="9.5">d'utilisation du</tspan><tspan x="1860" dy="9.5">numérique</tspan></text><circle class="dot" cx="1940" cy="1184" r="12"/><text class="sym" x="1940" y="1186.5">+</text>
<text class="tr" x="1860" y="1220">Organisé</text><circle class="dot" cx="1940" cy="1218" r="12"/><text class="sym" x="1940" y="1220.5">-</text>
<text class="tr" x="1860" y="1257">Curiosité</text><circle class="dot" cx="1940" cy="1255" r="12"/><text class="sym" x="1940" y="1257.5">-</text>
<text class="tr" x="1860" y="1290">Capacité de<tspan x="1860" dy="9.5">paiement</tspan></text><circle class="dot" cx="1940" cy="1292" r="12"/><text class="sym" x="1940" y="1294.5">-</text>
</g>
<g id="table-C">
<text class="pt" x="2036" y="1104">Profil C</text>
<rect class="tb" x="1975" y="1124" width="124" height="188"/>
<text class="tr" x="1991" y="1145">Connaissance de<tspan x="1991" dy="9.5">ses compétences</tspan></text><circle class="dot" cx="2072" cy="1148" r="12"/><text class="sym" x="2072" y="1150.5">+</text>
<text class="tr" x="1991" y="1175">Fréquence<tspan x="1991" dy="9.5">d'utilisation du</tspan><tspan x="1991" dy="9.5">numérique</tspan></text><circle class="dot" cx="2072" cy="1184" r="12"/><text class="sym" x="2072" y="1186.5">-</text>
<text class="tr" x="1991" y="1221">Organisé</text><circle class="dot" cx="2072" cy="1219" r="12"/><text class="sym" x="2072" y="1221.5">-</text>
<text class="tr" x="1991" y="1257">Curiosité</text><circle class="dot" cx="2072" cy="1255" r="12"/><text class="sym" x="2072" y="1257.5">-</text>
<text class="tr" x="1991" y="1290">Capacité de<tspan x="1991" dy="9.5">paiement</tspan></text><circle class="dot" cx="2072" cy="1293" r="12"/><text class="sym" x="2072" y="1295.5">+</text>
</g>
<g id="table-D">
<text class="pt" x="2169" y="1104">Profil D</text>
<rect class="tb" x="2106" y="1124" width="124" height="188"/>
<text class="tr" x="2122" y="1144">Connaissance de<tspan x="2122" dy="9.5">ses compétences</tspan></text><circle class="dot" cx="2202" cy="1147" r="12"/><text class="sym" x="2202" y="1149.5">+</text>
<text class="tr" x="2122" y="1174">Fréquence<tspan x="2122" dy="9.5">d'utilisation du</tspan><tspan x="2122" dy="9.5">numérique</tspan></text><circle class="dot" cx="2202" cy="1183" r="12"/><text class="sym" x="2202" y="1185.5">+</text>
<text class="tr" x="2122" y="1219">Organisé</text><circle class="dot" cx="2202" cy="1217" r="12"/><text class="sym" x="2202" y="1219.5">+</text>
<text class="tr" x="2122" y="1256">Curiosité</text><circle class="dot" cx="2202" cy="1254" r="12"/><text class="sym" x="2202" y="1256.5">+</text>
<text class="tr" x="2122" y="1289">Capacité de<tspan x="2122" dy="9.5">paiement</tspan></text><circle class="dot" cx="2202" cy="1291" r="12"/><text class="sym" x="2202" y="1293.5">-</text>
</g>
<g id="table-E">
<text class="pt" x="2299" y="1104">Profil E</text>
<rect class="tb" x="2237" y="1124" width="124" height="188"/>
<text class="tr" x="2253" y="1143">Connaissance de<tspan x="2253" dy="9.5">ses compétences</tspan></text><circle class="dot" cx="2333" cy="1146" r="12"/><text class="sym" x="2333" y="1148.5">+</text>
<text class="tr" x="2253" y="1173">Fréquence<tspan x="2253" dy="9.5">d'utilisation du</tspan><tspan x="2253" dy="9.5">numérique</tspan></text><circle class="dot" cx="2333" cy="1183" r="12"/><text class="sym" x="2333" y="1185.5">+</text>
<text class="tr" x="2253" y="1218">Organisé</text><circle class="dot" cx="2333" cy="1216" r="12"/><text class="sym" x="2333" y="1218.5">/</text>
<text class="tr" x="2253" y="1255">Curiosité</text><circle class="dot" cx="2333" cy="1253" r="12"/><text class="sym" x="2333" y="1255.5">-</text>
<text class="tr" x="2253" y="1288">Capacité de<tspan x="2253" dy="9.5">paiement</tspan></text><circle class="dot" cx="2333" cy="1290" r="12"/><text class="sym" x="2333" y="1292.5">+</text>
</g>
</svg>
